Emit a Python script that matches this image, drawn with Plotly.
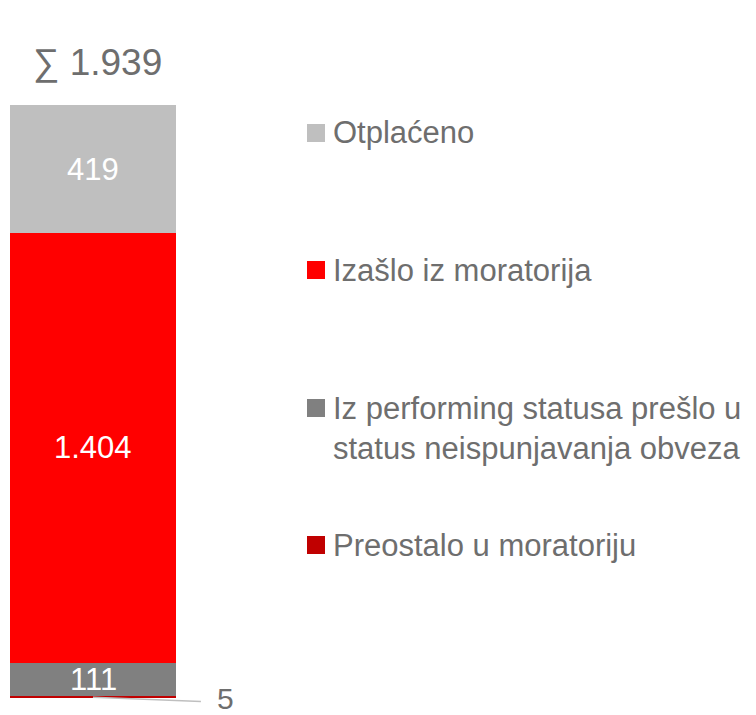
import plotly.graph_objects as go

# ---- data ----
categories = ["Preostalo u moratoriju",
              "Iz performing statusa prešlo u<br>status neispunjavanja obveza",
              "Izašlo iz moratorija",
              "Otplaćeno"]
values = [5, 111, 1404, 419]
colors = ["#C00000", "#808080", "#FF0000", "#BFBFBF"]
total = sum(values)

W, H = 756, 715
OFF = 8  # page body margin compensation
TEXT = "#6E6E6E"
FONT = "Liberation Sans, Arial, sans-serif"

# axis mapping (pixel geometry, in reference-page pixels)
bar_left, bar_right = 10 - OFF, 176 - OFF
px_per_x = bar_right - bar_left
x0 = -0.5 - bar_left / px_per_x
x1 = x0 + W / px_per_x
y_zero_px, y_top_px = 698 - OFF, 105 - OFF
px_per_y = (y_zero_px - y_top_px) / total
y1 = total + y_top_px / px_per_y
y0 = -(H - y_zero_px) / px_per_y

fig = go.Figure()
for cat, v, c in zip(categories, values, colors):
    fig.add_trace(go.Bar(x=[0], y=[v], name=cat, marker=dict(color=c, line=dict(width=0)),
                         width=1, showlegend=False, hoverinfo="skip"))

def fmt(v):
    return f"{v:,}".replace(",", ".")

annotations = []
cum = 0
for v in values:
    mid = cum + v / 2
    if v > 50:
        annotations.append(dict(x=0, y=mid, xref="x", yref="y", text=fmt(v), showarrow=False,
                                font=dict(family=FONT, size=31, color="white"),
                                xanchor="center", yanchor="middle"))
    cum += v

# small segment label with leader line
small = values[0]
annotations.append(dict(x=0.80, y=0, xref="x", yref="y", text=fmt(small),
                        showarrow=False, font=dict(family=FONT, size=30, color=TEXT),
                        xanchor="center", yanchor="middle", borderpad=0))
shapes = [dict(type="line", xref="x", yref="y", x0=0, y0=small / 2, x1=0.65, y1=small / 2 - 14,
               line=dict(color="#BFBFBF", width=1.5))]

# total
annotations.append(dict(x=0.03, y=total, xref="x", yref="y", text="∑ " + fmt(total),
                        showarrow=False, font=dict(family=FONT, size=37, color=TEXT),
                        xanchor="center", yanchor="middle", yshift=43))

# custom legend (top to bottom), positions in reference-page pixels
legend_rows = [(3, 133), (2, 270), (1, 408), (0, 545)]
for idx, ypx in legend_rows:
    ypx -= OFF
    multiline = "<br>" in categories[idx]
    annotations.append(dict(x=(331 - OFF) / W, y=1 - (ypx + (21 if multiline else 0)) / H,
                            xref="paper", yref="paper", text=categories[idx], showarrow=False,
                            align="left", xanchor="left", yanchor="middle",
                            font=dict(family=FONT, size=31, color=TEXT)))
    shapes.append(dict(type="rect", xref="paper", yref="paper",
                       x0=(307 - OFF) / W, x1=(325 - OFF) / W,
                       y0=1 - (ypx + 9) / H, y1=1 - (ypx - 9) / H,
                       fillcolor=colors[idx], line=dict(width=0)))

fig.update_layout(
    width=W, height=H, barmode="stack",
    margin=dict(l=0, r=0, t=0, b=0),
    paper_bgcolor="white", plot_bgcolor="white",
    xaxis=dict(range=[x0, x1], visible=False, fixedrange=True),
    yaxis=dict(range=[y0, y1], visible=False, fixedrange=True),
    annotations=annotations, shapes=shapes, bargap=0,
)
fig.write_html("out.html")
